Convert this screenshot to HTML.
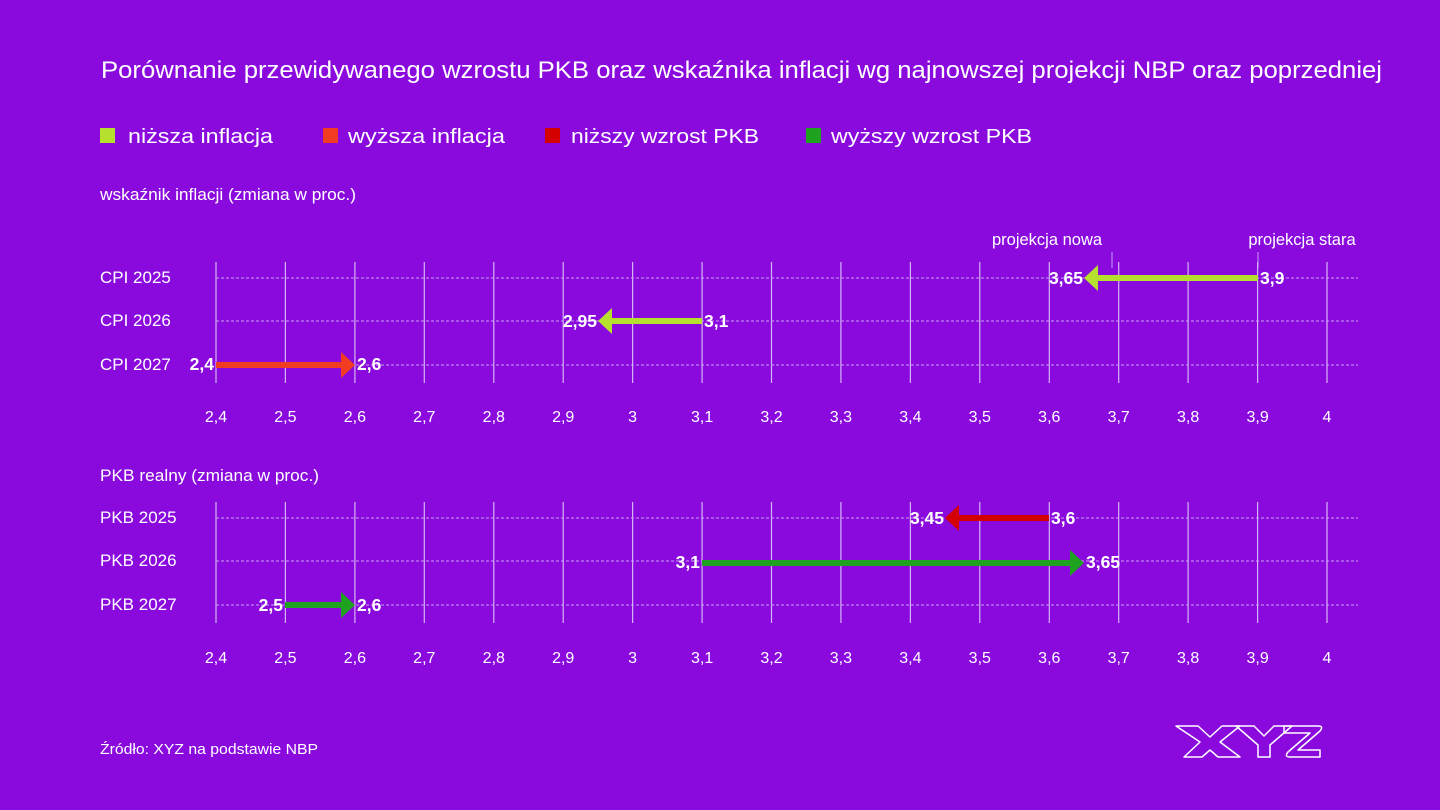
<!DOCTYPE html>
<html><head><meta charset="utf-8"><style>
html,body{margin:0;padding:0;background:#8a0ade;}
svg{display:block}
text{font-family:"Liberation Sans",sans-serif;fill:#fff}
</style></head><body>
<svg width="1440" height="810" viewBox="0 0 1440 810" xmlns="http://www.w3.org/2000/svg">
<rect width="1440" height="810" fill="#8a0ade"/>
<text x="101" y="78" font-size="24" textLength="1281" lengthAdjust="spacingAndGlyphs">Porównanie przewidywanego wzrostu PKB oraz wskaźnika inflacji wg najnowszej projekcji NBP oraz poprzedniej</text>
<rect x="100" y="128" width="15" height="15" fill="#b5e02e"/>
<text x="128" y="143" font-size="20" textLength="145" lengthAdjust="spacingAndGlyphs">niższa inflacja</text>
<rect x="323" y="128" width="15" height="15" fill="#f23c22"/>
<text x="348" y="143" font-size="20" textLength="157" lengthAdjust="spacingAndGlyphs">wyższa inflacja</text>
<rect x="545" y="128" width="15" height="15" fill="#d40000"/>
<text x="571" y="143" font-size="20" textLength="188" lengthAdjust="spacingAndGlyphs">niższy wzrost PKB</text>
<rect x="806" y="128" width="15" height="15" fill="#1fa21f"/>
<text x="831" y="143" font-size="20" textLength="201" lengthAdjust="spacingAndGlyphs">wyższy wzrost PKB</text>
<text x="100" y="200" font-size="17" textLength="256" lengthAdjust="spacingAndGlyphs">wskaźnik inflacji (zmiana w proc.)</text>
<text x="100" y="481" font-size="17" textLength="219" lengthAdjust="spacingAndGlyphs">PKB realny (zmiana w proc.)</text>
<text x="1047" y="245" font-size="16.5" text-anchor="middle">projekcja nowa</text>
<text x="1302" y="245" font-size="16.5" text-anchor="middle">projekcja stara</text>
<line x1="1112" y1="252" x2="1112" y2="268" stroke="#c9a0f0" stroke-width="1"/>
<line x1="1258" y1="252" x2="1258" y2="268" stroke="#c9a0f0" stroke-width="1"/>
<g id="grid1" stroke="#d6b4f4" stroke-width="1.2">
<line x1="216" y1="262" x2="216" y2="383"/><line x1="285.4" y1="262" x2="285.4" y2="383"/><line x1="354.9" y1="262" x2="354.9" y2="383"/><line x1="424.3" y1="262" x2="424.3" y2="383"/><line x1="493.8" y1="262" x2="493.8" y2="383"/><line x1="563.2" y1="262" x2="563.2" y2="383"/><line x1="632.6" y1="262" x2="632.6" y2="383"/><line x1="702.1" y1="262" x2="702.1" y2="383"/><line x1="771.5" y1="262" x2="771.5" y2="383"/><line x1="840.9" y1="262" x2="840.9" y2="383"/><line x1="910.4" y1="262" x2="910.4" y2="383"/><line x1="979.8" y1="262" x2="979.8" y2="383"/><line x1="1049.3" y1="262" x2="1049.3" y2="383"/><line x1="1118.7" y1="262" x2="1118.7" y2="383"/><line x1="1188.1" y1="262" x2="1188.1" y2="383"/><line x1="1257.6" y1="262" x2="1257.6" y2="383"/><line x1="1327" y1="262" x2="1327" y2="383"/>
</g>
<use href="#grid1" y="240"/>
<g stroke="#c9a0f0" stroke-width="1" stroke-dasharray="3,2">
<line x1="216" y1="278" x2="1358" y2="278"/><line x1="216" y1="321" x2="1358" y2="321"/><line x1="216" y1="365" x2="1358" y2="365"/>
<line x1="216" y1="518" x2="1358" y2="518"/><line x1="216" y1="561" x2="1358" y2="561"/><line x1="216" y1="605" x2="1358" y2="605"/>
</g>
<g font-size="17">
<text x="100" y="283">CPI 2025</text><text x="100" y="326">CPI 2026</text><text x="100" y="370">CPI 2027</text>
<text x="100" y="523">PKB 2025</text><text x="100" y="566">PKB 2026</text><text x="100" y="610">PKB 2027</text>
</g>
<g font-size="16" text-anchor="middle" id="ax1">
<text x="216" y="422">2,4</text><text x="285.4" y="422">2,5</text><text x="354.9" y="422">2,6</text><text x="424.3" y="422">2,7</text><text x="493.8" y="422">2,8</text><text x="563.2" y="422">2,9</text><text x="632.6" y="422">3</text><text x="702.1" y="422">3,1</text><text x="771.5" y="422">3,2</text><text x="840.9" y="422">3,3</text><text x="910.4" y="422">3,4</text><text x="979.8" y="422">3,5</text><text x="1049.3" y="422">3,6</text><text x="1118.7" y="422">3,7</text><text x="1188.1" y="422">3,8</text><text x="1257.6" y="422">3,9</text><text x="1327" y="422">4</text>
</g>
<use href="#ax1" y="241"/>
<line x1="1258" y1="278" x2="1098" y2="278" stroke="#b5e02e" stroke-width="6"/>
<polygon points="1084,278 1098,265 1098,291" fill="#b5e02e"/>
<line x1="702" y1="321" x2="612" y2="321" stroke="#b5e02e" stroke-width="6"/>
<polygon points="598,321 612,308 612,334" fill="#b5e02e"/>
<line x1="216" y1="365" x2="341" y2="365" stroke="#f23c22" stroke-width="6"/>
<polygon points="355,365 341,352 341,378" fill="#f23c22"/>
<line x1="1049" y1="518" x2="959" y2="518" stroke="#d40000" stroke-width="6"/>
<polygon points="945,518 959,505 959,531" fill="#d40000"/>
<line x1="702" y1="563" x2="1070" y2="563" stroke="#1fa21f" stroke-width="6"/>
<polygon points="1084,563 1070,550 1070,576" fill="#1fa21f"/>
<line x1="285" y1="605" x2="341" y2="605" stroke="#1fa21f" stroke-width="6"/>
<polygon points="355,605 341,592 341,618" fill="#1fa21f"/>
<g font-size="17.5" font-weight="bold">
<text x="1083" y="284" text-anchor="end">3,65</text><text x="1260" y="284">3,9</text>
<text x="597" y="327" text-anchor="end">2,95</text><text x="704" y="327">3,1</text>
<text x="214" y="370" text-anchor="end">2,4</text><text x="357" y="370">2,6</text>
<text x="944" y="524" text-anchor="end">3,45</text><text x="1051" y="524">3,6</text>
<text x="700" y="568" text-anchor="end">3,1</text><text x="1086" y="568">3,65</text>
<text x="283" y="611" text-anchor="end">2,5</text><text x="357" y="611">2,6</text>
</g>
<text x="100" y="754" font-size="15" textLength="218" lengthAdjust="spacingAndGlyphs">Źródło: XYZ na podstawie NBP</text>
<g fill="none" stroke="#fff" stroke-width="1.5" stroke-linejoin="round">
<path d="M1176,726 L1198,726 L1210,737 L1222,726 L1240,726 L1220,742 L1240,757 L1218,757 L1210,750 L1202,757 L1184,757 L1200,742 Z"/>
<path d="M1236,726 L1254,726 L1264,736 L1274,726 L1292,726 L1270,745 L1270,757 L1258,757 L1258,745 Z"/>
<path d="M1284,726 L1318,726 Q1324,726 1320,731 L1298,750 L1320,750 L1320,757 L1290,757 Q1284,757 1288,752 L1310,733 L1284,733 Z"/>
</g>
</svg>
</body></html>
